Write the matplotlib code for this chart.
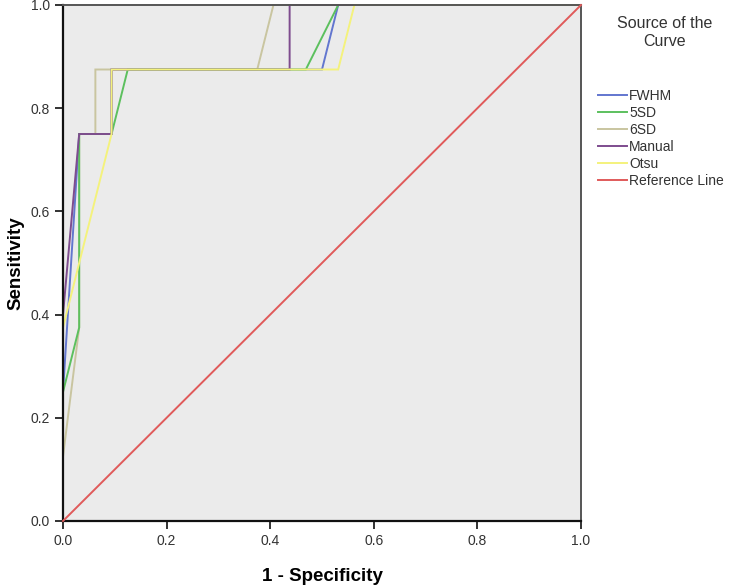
import matplotlib.pyplot as plt
from matplotlib.lines import Line2D

# ROC curve points (1 - specificity, sensitivity)
fwhm_x = [0, 0, 0.03125, 0.09375, 0.09375, 0.5, 0.53125, 1]
fwhm_y = [0, 0.25, 0.75, 0.75, 0.875, 0.875, 1.0, 1.0]

sd5_x = [0, 0, 0.03125, 0.03125, 0.09375, 0.125, 0.46875, 0.53125, 1]
sd5_y = [0, 0.25, 0.375, 0.75, 0.75, 0.875, 0.875, 1.0, 1.0]

sd6_x = [0, 0, 0.03125, 0.03125, 0.0625, 0.0625, 0.375, 0.40625, 1]
sd6_y = [0, 0.125, 0.375, 0.75, 0.75, 0.875, 0.875, 1.0, 1.0]

manual_x = [0, 0, 0.03125, 0.09375, 0.09375, 0.4375, 0.4375, 1]
manual_y = [0, 0.4, 0.75, 0.75, 0.875, 0.875, 1.0, 1.0]

otsu_x = [0, 0, 0.09375, 0.09375, 0.53125, 0.5625, 1]
otsu_y = [0, 0.375, 0.75, 0.875, 0.875, 1.0, 1.0]

ref_x = [0, 1]
ref_y = [0, 1]

labels = ["FWHM", "5SD", "6SD", "Manual", "Otsu", "Reference Line"]
colors = ["#6276cf", "#5cc05e", "#c9c5a0", "#7e4c8e", "#f4f27c", "#e05a5a"]
# stacking of the curves where they overlap
zorders = [2.2, 2.3, 2.1, 2.4, 2.5, 2.6]

plt.rcParams['font.family'] = ['Liberation Sans', 'DejaVu Sans']

fig = plt.figure(figsize=(7.32, 5.86), dpi=100)
ax = fig.add_axes([63 / 732, 1 - 521 / 586, 518 / 732, 516 / 586])
ax.set_facecolor("#ebebeb")

series = [(fwhm_x, fwhm_y), (sd5_x, sd5_y), (sd6_x, sd6_y),
          (manual_x, manual_y), (otsu_x, otsu_y), (ref_x, ref_y)]
for (xs, ys), c, z in zip(series, colors, zorders):
    ax.plot(xs, ys, color=c, lw=1.4, solid_joinstyle='miter', clip_on=False, zorder=z)

ax.set_xlim(0, 1)
ax.set_ylim(0, 1)
ticks = [0, 0.2, 0.4, 0.6, 0.8, 1.0]
ax.set_xticks(ticks)
ax.set_yticks(ticks)
ax.set_xticklabels([f"{t:.1f}" for t in ticks], fontsize=10, color="#333333")
ax.set_yticklabels([f"{t:.1f}" for t in ticks], fontsize=10, color="#333333")
ax.tick_params(direction='out', length=6, width=1.3, color="#222222")

for side in ["left", "bottom"]:
    ax.spines[side].set_linewidth(1.6)
    ax.spines[side].set_color("#111111")
for side in ["top", "right"]:
    ax.spines[side].set_linewidth(1.4)
    ax.spines[side].set_color("#555555")

ax.set_xlabel("1 - Specificity", fontsize=13.5, fontweight='bold', labelpad=14)
ax.set_ylabel("Sensitivity", fontsize=13.5, fontweight='bold', labelpad=4)

# legend title sits apart from the entries, as in SPSS output
fig.text(665 / 732, 1 - 32 / 586, "Source of the\nCurve", ha='center', va='center',
         fontsize=11.5, color="#333333", linespacing=1.25)

handles = [Line2D([], [], color=c, lw=1.4) for c in colors]
leg = fig.legend(handles, labels, loc='upper left', bbox_to_anchor=(598 / 732, 1 - 89 / 586),
                 frameon=False, fontsize=10, handlelength=2.1, handletextpad=0.15,
                 labelspacing=0.22, borderaxespad=0, borderpad=0)
for t in leg.get_texts():
    t.set_color("#333333")

fig.savefig("out.png", dpi=100)
